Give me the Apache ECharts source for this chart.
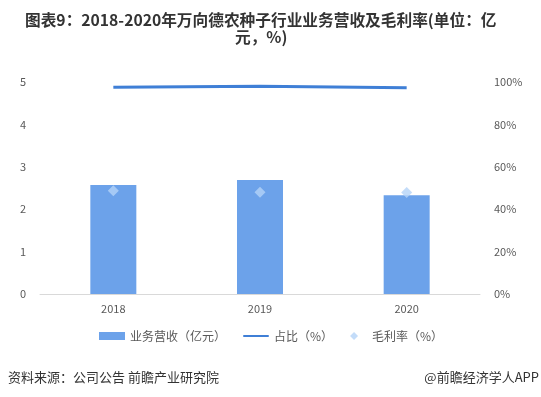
<!DOCTYPE html>
<html>
<head>
    <meta charset="utf-8">
    <title>万向德农种子行业业务营收及毛利率</title>
    <style>
        html, body { margin: 0; padding: 0; background: #fff; }
        #main { width: 541px; height: 397px; }
    </style>
</head>
<body>
<div id="main"></div>
<script src="https://cdn.jsdelivr.net/npm/echarts@6/dist/echarts.min.js"></script>
<script>
    var years = ['2018', '2019', '2020'];
    var revenue = [2.57, 2.69, 2.33];      // 业务营收（亿元）
    var share = [97.5, 98.0, 97.3];        // 占比（%）
    var margin = [48.7, 48.0, 47.9];       // 毛利率（%）
    var leftTicks = [0, 5, 1];
    var rightTicks = [0, 100, 20];

    var font = '"Microsoft YaHei", "Noto Sans CJK SC", sans-serif';

    var option = {
        backgroundColor: '#fff',
        textStyle: { fontFamily: font },
        title: [
            {
                text: '图表9：2018-2020年万向德农种子行业业务营收及毛利率(单位：亿',
                left: 25,
                top: 12,
                padding: 0,
                textStyle: { fontSize: 15.7, fontWeight: 'bold', color: '#333', fontFamily: font }
            },
            {
                text: '元，%)',
                left: 235,
                top: 29,
                padding: 0,
                textStyle: { fontSize: 15.7, fontWeight: 'bold', color: '#333', fontFamily: font }
            },
            {
                text: '资料来源：公司公告 前瞻产业研究院',
                left: 3, top: 366,
                textStyle: { fontSize: 13, fontWeight: 'normal', color: '#333', fontFamily: font }
            },
            {
                text: '@前瞻经济学人APP',
                right: -3, top: 366,
                textStyle: { fontSize: 13, fontWeight: 'normal', color: '#333', fontFamily: font }
            }
        ],
        grid: { left: 40, right: 61, top: 82, bottom: 103 },
        legend: {
            bottom: 50,
            left: 94,
            itemGap: 17,
            itemWidth: 26,
            itemHeight: 8,
            textStyle: { fontSize: 12, color: '#595959' },
            data: [
                { name: '业务营收（亿元）', icon: 'rect' },
                { name: '占比（%）', icon: 'path://M1,4 L25,4 Q26,4 26,5 Q26,6 25,6 L1,6 Q0,6 0,5 Q0,4 1,4 Z' },
                { name: '毛利率（%）', icon: 'path://M5,0 L10,5 L5,10 L0,5 Z' }
            ]
        },
        xAxis: {
            type: 'category',
            data: years,
            axisTick: { show: false },
            axisLine: { lineStyle: { color: '#d9d9d9' } },
            axisLabel: { color: '#595959', fontSize: 11, margin: 9 }
        },
        yAxis: [
            {
                type: 'value',
                min: leftTicks[0], max: leftTicks[1], interval: leftTicks[2],
                splitLine: { show: false },
                axisLine: { show: false },
                axisTick: { show: false },
                axisLabel: { color: '#595959', fontSize: 11, margin: 14 }
            },
            {
                type: 'value',
                min: rightTicks[0], max: rightTicks[1], interval: rightTicks[2],
                splitLine: { show: false },
                axisLine: { show: false },
                axisTick: { show: false },
                axisLabel: { color: '#595959', fontSize: 11, margin: 14, formatter: '{value}%' }
            }
        ],
        series: [
            {
                name: '业务营收（亿元）',
                type: 'bar',
                data: revenue,
                barWidth: 46,
                itemStyle: { color: '#6ca2ea' }
            },
            {
                name: '占比（%）',
                type: 'line',
                yAxisIndex: 1,
                data: share,
                symbol: 'none',
                lineStyle: { color: '#3f7fd6', width: 3 },
                itemStyle: { color: '#3f7fd6' }
            },
            {
                name: '毛利率（%）',
                type: 'scatter',
                yAxisIndex: 1,
                data: margin,
                symbol: 'diamond',
                symbolSize: 11,
                itemStyle: { color: '#b4d3f8' },
                z: 5
            }
        ]
    };

    var chart = echarts.init(document.getElementById('main'));
    chart.setOption(option);
</script>
</body>
</html>
